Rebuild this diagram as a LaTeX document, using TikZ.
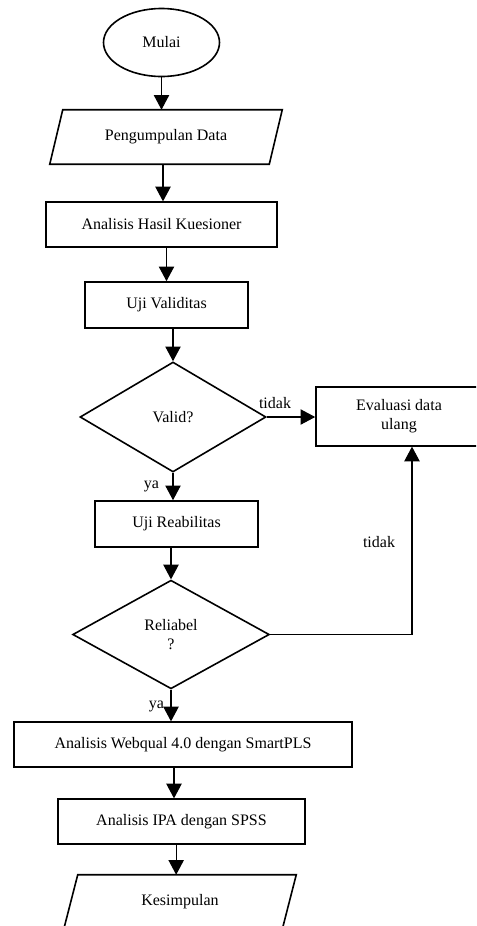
\documentclass[tikz,border=0pt]{standalone}
\usepackage{fontspec}
\setmainfont{Liberation Serif}
\usepackage{tikz}
\usetikzlibrary{
  arrows.meta,
  positioning,
  shapes.geometric
}

\begin{document}
\begin{tikzpicture}[
  x=0.75pt, y=-0.75pt,
  every node/.style={font=\fontsize{12}{14}\selectfont, text=black},
  term/.style={draw, ellipse, line width=1.2pt, inner sep=0pt, minimum width=87pt, minimum height=51pt},
  io/.style={rectangle, inner sep=0pt, minimum width=174pt, minimum height=40.5pt},
  border/.style={line width=1.2pt, line join=miter},
  proc/.style={draw, rectangle, line width=1.2pt, inner sep=0pt, minimum height=33.5pt},
  dec/.style={draw, diamond, line width=1.2pt, inner sep=0pt, align=center},
  arr/.style={draw, line width=0.8pt, -{Triangle[length=11pt, width=11.5pt]}},
  lbl/.style={inner sep=0pt}
]

% frame
\path[use as bounding box, clip] (0,0) rectangle (476,926);

% nodes
\node[term] (mulai) at (161.5,42.5) {Mulai};
\node[io] (kumpul) at (166,137) {Pengumpulan Data};
\draw[border] (kumpul.south west) -- ([xshift=9.75pt]kumpul.north west) -- (kumpul.north east)
  -- ([xshift=-9.75pt]kumpul.south east) -- cycle;
\node[proc, minimum width=173pt] (kuesioner) at (161.5,224.5) {Analisis Hasil Kuesioner};
\node[proc, minimum width=122pt, minimum height=34.5pt] (validitas) at (166.5,305) {Uji Validitas};
\node[dec, minimum width=139.5pt, minimum height=82.5pt] (valid) at (173,417) {Valid?};
\node[proc, align=center, minimum width=124.5pt, minimum height=44pt] (evaluasi) at (399,416.5) {Evaluasi data\\ulang};
\node[proc, minimum width=122pt, minimum height=34.5pt] (reabilitas) at (176.5,524) {Uji Reabilitas};
\node[dec, minimum width=147.5pt, minimum height=81.5pt] (reliabel) at (171,634.5) {Reliabel\\?};
\node[proc, minimum width=253.5pt] (webqual) at (183,744.5) {Analisis Webqual 4.0 dengan SmartPLS};
\node[proc, minimum width=185pt] (ipa) at (181.5,821.5) {Analisis IPA dengan SPSS};
\node[io] (simpul) at (180,902) {Kesimpulan};
\draw[border] (simpul.south west) -- ([xshift=10.5pt]simpul.north west) -- (simpul.north east)
  -- ([xshift=-10.5pt]simpul.south east) -- cycle;

% connectors
\draw[arr] (mulai.south) -- (mulai.south |- kumpul.north);
\draw[arr] ([xshift=-2.25pt]kumpul.south) -- ([xshift=-2.25pt]kumpul.south |- kuesioner.north);
\draw[arr] (validitas |- kuesioner.south) -- (validitas.north);
\draw[arr] (valid |- validitas.south) -- (valid.north);
\draw[arr] (valid.east) -- (valid.east -| evaluasi.west);
\draw[arr] (valid.south) -- (valid.south |- reabilitas.north);
\draw[arr] (reliabel |- reabilitas.south) -- (reliabel.north);
\draw[arr] (reliabel.east) -| ([xshift=9.75pt]evaluasi.south);
\draw[arr] (reliabel.south) -- (reliabel.south |- webqual.north);
\draw[arr] ([xshift=-6.75pt]webqual.south) -- ([xshift=-6.75pt]webqual.south |- ipa.north);
\draw[arr] ([xshift=-4pt]ipa.south) -- ([xshift=-4pt]ipa.south |- simpul.north);

% labels
\node[lbl] (tidak1) at (275,403) {tidak};
\node[lbl] (ya1) at (151.5,486) {ya};
\node[lbl] (tidak2) at (379,542) {tidak};
\node[lbl] (ya2) at (156.5,706) {ya};

\end{tikzpicture}
\end{document}
